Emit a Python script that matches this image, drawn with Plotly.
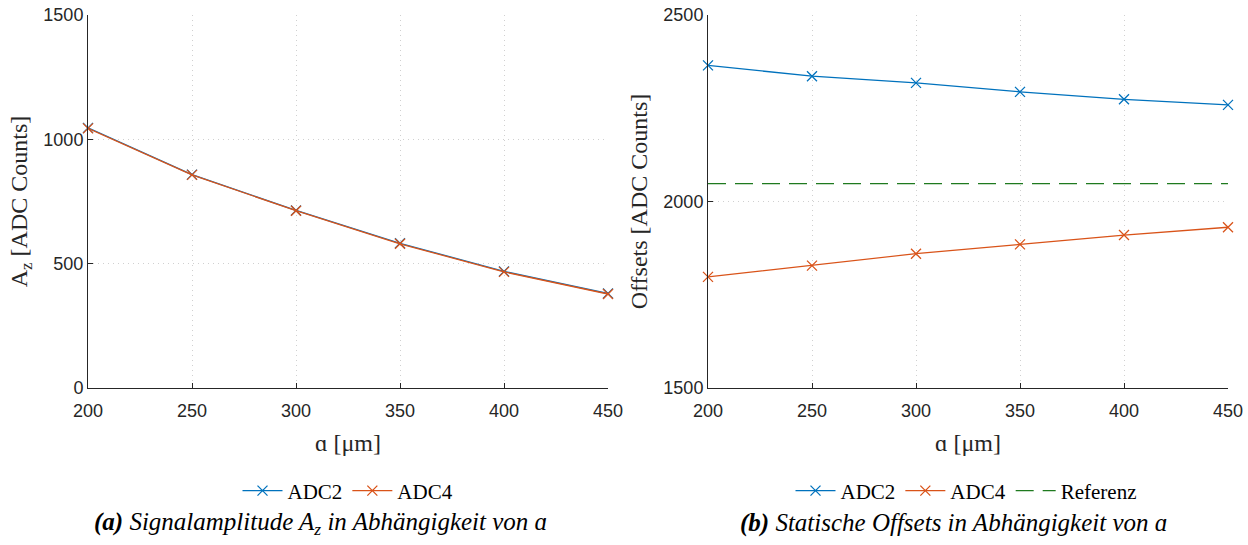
import plotly.graph_objects as go

a_um = [200, 250, 300, 350, 400, 450]
amp_adc2 = [1046, 858, 714, 582, 469, 380]
amp_adc4 = [1044, 857, 713, 580, 467, 378]
off_adc2 = [2365, 2336, 2318, 2294, 2274, 2259]
off_adc4 = [1798, 1828, 1860, 1885, 1910, 1931]
referenz = 2048

x_ticks = [200, 250, 300, 350, 400, 450]
y_ticks_a = [0, 500, 1000, 1500]
y_ticks_b = [1500, 2000, 2500]

BLUE = "#0072BD"
ORANGE = "#D95319"
GREEN = "#1f7a1f"
SERIF = "Liberation Serif"
SANS = "Liberation Sans"

fig = go.Figure()

def mk(color):
    return dict(symbol="x-thin", size=10, line=dict(color=color, width=1.3), color=color)

fig.add_trace(go.Scatter(x=a_um, y=amp_adc2, mode="lines+markers", name="ADC2",
                         line=dict(color=BLUE, width=1.3), marker=mk(BLUE), cliponaxis=False,
                         xaxis="x", yaxis="y", legend="legend"))
fig.add_trace(go.Scatter(x=a_um, y=amp_adc4, mode="lines+markers", name="ADC4",
                         line=dict(color=ORANGE, width=1.3), marker=mk(ORANGE), cliponaxis=False,
                         xaxis="x", yaxis="y", legend="legend"))
fig.add_trace(go.Scatter(x=a_um, y=off_adc2, mode="lines+markers", name="ADC2",
                         line=dict(color=BLUE, width=1.3), marker=mk(BLUE), cliponaxis=False,
                         xaxis="x2", yaxis="y2", legend="legend2"))
fig.add_trace(go.Scatter(x=a_um, y=off_adc4, mode="lines+markers", name="ADC4",
                         line=dict(color=ORANGE, width=1.3), marker=mk(ORANGE), cliponaxis=False,
                         xaxis="x2", yaxis="y2", legend="legend2"))
fig.add_trace(go.Scatter(x=[a_um[0], a_um[-1]], y=[referenz, referenz], mode="lines", name="Referenz",
                         line=dict(color=GREEN, width=1.3, dash="18px,9px"),
                         xaxis="x2", yaxis="y2", legend="legend2"))

axis_common = dict(showline=True, linecolor="#262626", linewidth=1, mirror=False,
                   ticks="inside", ticklen=5, tickcolor="#262626", automargin=False,
                   showgrid=True, gridcolor="#d0d0d0", griddash="1px,4px", gridwidth=1,
                   zeroline=False, tickfont=dict(family=SANS, size=18, color="#262626"))

ytop = (545 - 15) / 545
ybot = (545 - 388) / 545
TFONT = dict(family=SERIF, size=24, color="#262626")

fig.update_layout(
    width=1248, height=545,
    margin=dict(l=0, r=0, t=0, b=0),
    paper_bgcolor="white", plot_bgcolor="white",
    xaxis=dict(domain=[88/1248, 608/1248], range=[200, 450], tickvals=x_ticks, anchor="y",
               ticklabelstandoff=6,
               title=dict(text="ɑ [μm]", font=TFONT, standoff=14), **axis_common),
    yaxis=dict(domain=[ybot, ytop], range=[0, 1500], tickvals=y_ticks_a, anchor="x",
               title=dict(text="A<sub>z</sub> [ADC Counts]", font=TFONT, standoff=8), **axis_common),
    xaxis2=dict(domain=[708/1248, 1228/1248], range=[200, 450], tickvals=x_ticks, anchor="y2",
                ticklabelstandoff=6,
                title=dict(text="ɑ [μm]", font=TFONT, standoff=14), **axis_common),
    yaxis2=dict(domain=[ybot, ytop], range=[1500, 2500], tickvals=y_ticks_b, anchor="x2",
                title=dict(text="Offsets [ADC Counts]", font=TFONT, standoff=8), **axis_common),
    legend=dict(orientation="h", x=348/1248, y=(545-491)/545, xanchor="center", yanchor="middle",
                font=dict(family=SERIF, size=21, color="black"), bgcolor="rgba(0,0,0,0)", itemwidth=40),
    legend2=dict(orientation="h", x=966/1248, y=(545-491)/545, xanchor="center", yanchor="middle",
                 font=dict(family=SERIF, size=21, color="black"), bgcolor="rgba(0,0,0,0)", itemwidth=40),
    annotations=[
        dict(text="<b><i>(a)</i></b> <i>Signalamplitude A<sub>z</sub> in Abhängigkeit von ɑ</i>",
             x=320/1248, y=(545-523)/545, xref="paper", yref="paper", showarrow=False,
             xanchor="center", yanchor="middle", font=dict(family=SERIF, size=25, color="black")),
        dict(text="<b><i>(b)</i></b> <i>Statische Offsets in Abhängigkeit von ɑ</i>",
             x=954/1248, y=(545-523)/545, xref="paper", yref="paper", showarrow=False,
             xanchor="center", yanchor="middle", font=dict(family=SERIF, size=25, color="black")),
    ],
)

fig.write_html("out.html")
